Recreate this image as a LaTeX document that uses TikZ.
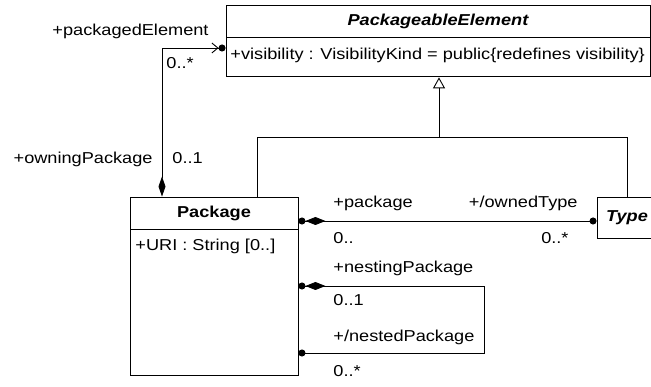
\documentclass[tikz,border=0pt]{standalone}
\usepackage{fontspec}
\setmainfont{Liberation Sans}[FakeStretch=1.15]
\usetikzlibrary{arrows.meta,positioning}

\begin{document}
\begin{tikzpicture}
  [x=1pt,y=-1pt,line width=.9pt,
   every node/.style={font=\fontsize{15.8}{18}\selectfont,inner sep=0pt},
   classhead/.style={draw,rectangle,font=\fontsize{15.8}{18}\selectfont\bfseries},
   classbody/.style={draw,rectangle},
   role/.style={text height=11pt,text depth=3pt}]
  \clip (0,0) rectangle (651,387);

  \node (pe) [classhead,minimum width=424pt,minimum height=32pt] at (438,21) {\itshape PackageableElement};
  \node (peattr) [classbody,minimum width=424pt,minimum height=39pt,below=0pt of pe] {};
  \node (pevis) [role,anchor=west] at (230,56) {+visibility : VisibilityKind = public\{redefines visibility\}};

  \node (pkghead) [classhead,minimum width=168pt,minimum height=32pt] at (214,213) {Package};
  \node (pkgbody) [classbody,minimum width=168pt,minimum height=146pt,below=0pt of pkghead] {};
  \node (pkguri) [role,anchor=west] at (135,247) {+URI : String [0..]};

  \node (typehead) [classhead,minimum width=60pt,minimum height=41pt] at (627,217.5) {\itshape Type};

  \coordinate (ownA) at (162,48);
  \coordinate (genL) at (257,137);
  \coordinate (genM) at (439,137);
  \coordinate (genR) at (627,137);
  \coordinate (ownT) at (0,221);
  \coordinate (nestT) at (484,286);
  \coordinate (nestB) at (484,353);

  \node (lpe) [role,anchor=east] at (209,32) {+packagedElement};
  \node (lpemult) [role,anchor=west] at (166,65) {0..*};
  \node (lown) [role,anchor=east] at (153,160) {+owningPackage};
  \node (lownmult) [role,anchor=west] at (172,160) {0..1};
  \node (lpkg) [role,anchor=west] at (333,204) {+package};
  \node (lpkgmult) [role,anchor=west] at (333,240) {0..};
  \node (ltype) [role,anchor=east] at (578,204) {+/ownedType};
  \node (ltypemult) [role,anchor=east] at (569,240) {0..*};
  \node (lnesting) [role,anchor=west] at (333,269) {+nestingPackage};
  \node (lnestingmult) [role,anchor=west] at (333,302) {0..1};
  \node (lnested) [role,anchor=west] at (333,338) {+/nestedPackage};
  \node (lnestedmult) [role,anchor=west] at (333,373) {0..*};

  \draw (pkghead.north -| genL) -- (genL) -- (genR) -- (typehead.north -| genR);
  \draw[-{Triangle[open,length=11pt,width=12pt]}] (genM) -- (peattr.south -| genM);

  \draw[{Diamond[length=20pt,width=7pt]}-{Straight Barb[length=6pt,width=10pt]Circle[length=7pt]}]
    (pkghead.north -| ownA) -- (ownA) -- (peattr.west |- ownA);
  \draw[{Circle[length=7pt]}-{Diamond[length=20pt,width=8pt]Circle[length=7pt]}]
    (typehead.west |- ownT) -- (pkghead.east |- ownT);
  \draw[{Circle[length=7pt]}-{Diamond[length=20pt,width=8pt]Circle[length=7pt]}]
    (pkgbody.east |- nestB) -- (nestB) -- (nestT) -- (pkgbody.east |- nestT);
\end{tikzpicture}
\end{document}
